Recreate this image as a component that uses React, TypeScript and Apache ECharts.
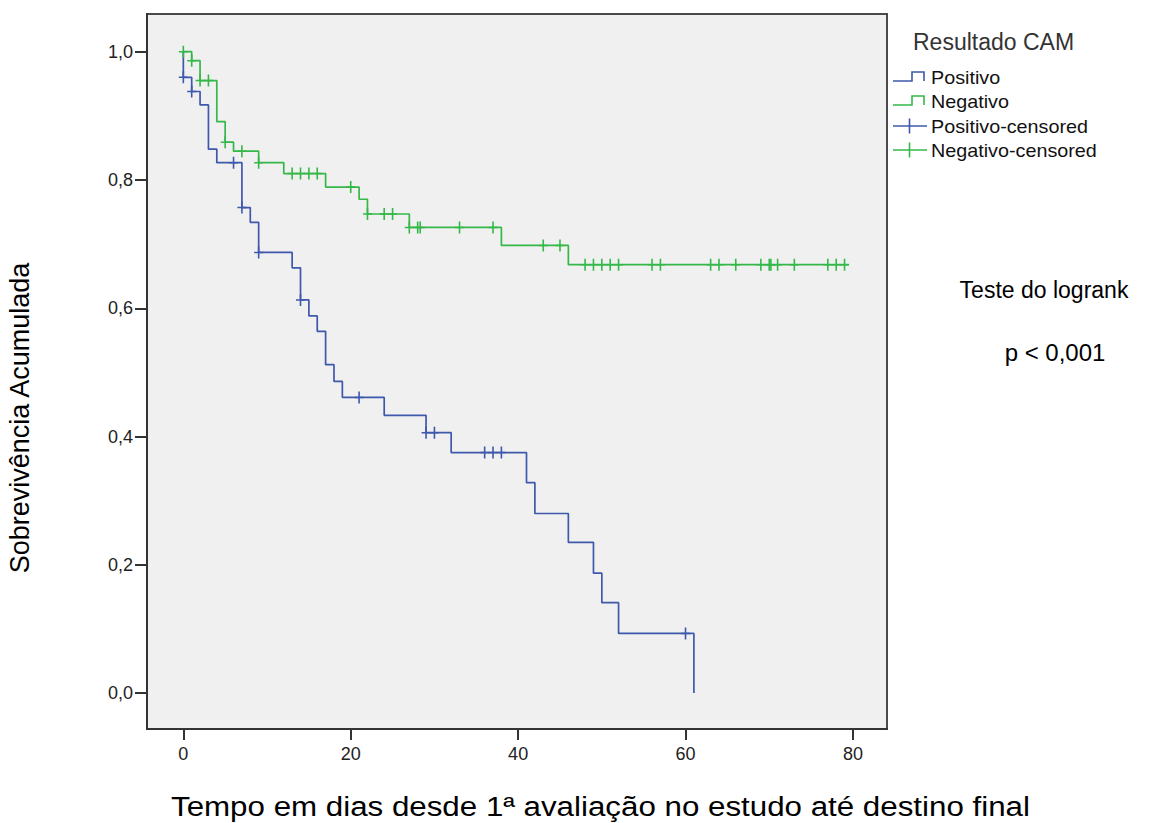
import React, { useEffect, useRef } from "react";
import * as echarts from "echarts";

// Kaplan-Meier curves (time in days, cumulative survival)
const positivoTimes = [0, 0, 1, 2, 3, 4, 7, 8, 9, 13, 14, 15, 16, 17, 18, 19, 24, 29, 32, 41, 42, 46, 49, 50, 52, 61];
const positivoSurv = [1.0, 0.96, 0.938, 0.917, 0.848, 0.827, 0.757, 0.734, 0.687, 0.663, 0.613, 0.588, 0.564, 0.512, 0.486, 0.461, 0.433, 0.406, 0.375, 0.328, 0.28, 0.235, 0.187, 0.141, 0.093, 0.0];
const positivoCensored = [0, 1, 6, 7, 9, 14, 21, 29, 30, 36, 37, 38, 60];

const negativoTimes = [0, 1, 2, 4, 5, 6, 9, 12, 17, 21, 22, 27, 38, 46, 79.5];
const negativoSurv = [1.0, 0.986, 0.955, 0.891, 0.859, 0.845, 0.827, 0.81, 0.789, 0.77, 0.747, 0.726, 0.698, 0.668, 0.668];
const negativoCensored = [0, 1, 2, 3, 5, 7, 9, 13, 14, 15, 16, 20, 22, 24, 25, 27, 28, 28.3, 33, 37, 43, 45, 48, 49, 50, 51, 52, 56, 57, 63, 64, 66, 69, 70, 70.2, 71, 73, 77, 78, 79];

const xTicks = [0, 20, 40, 60, 80];
const yTicks = [0, 0.2, 0.4, 0.6, 0.8, 1.0];

const legendTitle = "Resultado CAM";
const legendNames = ["Positivo", "Negativo", "Positivo-censored", "Negativo-censored"];
const xTitle = "Tempo em dias desde 1ª avaliação no estudo até destino final";
const yTitle = "Sobrevivência Acumulada";
const testTitle = "Teste do logrank";
const testP = "p < 0,001";

const BLUE = "#3E58AC";
const GREEN = "#34B848";
const FONT = "'Liberation Sans', Arial, sans-serif";
const CROSS = "path://M3.7,0H5.3V12H3.7ZM0,5.25H9V6.75H0Z";

function survAt(times: number[], surv: number[], t: number) {
  let v = surv[0];
  for (let i = 0; i < times.length; i++) {
    if (times[i] <= t) v = surv[i];
  }
  return v;
}

export default function App() {
  const ref = useRef<HTMLDivElement>(null);
  useEffect(() => {
    if (!ref.current) return;
    const chart = echarts.init(ref.current, undefined, { renderer: "svg" });
    const posLine = positivoTimes.map((t, i) => [t, positivoSurv[i]]);
    const negLine = negativoTimes.map((t, i) => [t, negativoSurv[i]]);
    const posCens = positivoCensored.map((t) => [t, survAt(positivoTimes, positivoSurv, t)]);
    const negCens = negativoCensored.map((t) => [t, survAt(negativoTimes, negativoSurv, t)]);

    const lx = 880; // legend anchor
    const legendText = (text: string, y: number) => ({
      type: "text",
      x: 931,
      y,
      scaleX: 1.04,
      style: { text, fontSize: 19, fontFamily: FONT, fill: "#111", textVerticalAlign: "middle" },
    });
    const stepIcon = (y: number, color: string) => ({
      type: "polyline",
      shape: { points: [[lx + 13, y + 4], [lx + 32, y + 4], [lx + 32, y - 5], [lx + 44, y - 5], [lx + 44, y + 4]] },
      style: { stroke: color, lineWidth: 1.6, fill: null },
    });
    const crossIcon = (y: number, color: string) => ({
      type: "group",
      children: [
        { type: "line", shape: { x1: lx + 13, y1: y, x2: lx + 47, y2: y }, style: { stroke: color, lineWidth: 1.5 } },
        { type: "line", shape: { x1: lx + 29.5, y1: y - 7.5, x2: lx + 29.5, y2: y + 7.5 }, style: { stroke: color, lineWidth: 1.6 } },
      ],
    });

    chart.setOption({
      animation: false,
      backgroundColor: "#ffffff",
      grid: {
        left: 147,
        top: 14,
        width: 740,
        height: 715,
        show: true,
        backgroundColor: "#F0F0F0",
        borderColor: "#4a4a4a",
        borderWidth: 2,
      },
      xAxis: {
        type: "value",
        min: -4.34,
        max: 84.07,
        axisLine: { show: true, onZero: false, lineStyle: { color: "#333", width: 2 } },
        axisTick: { show: true, length: 11, customValues: xTicks, lineStyle: { color: "#333", width: 2 } },
        axisLabel: { customValues: xTicks, margin: 16, fontSize: 18, color: "#222", fontFamily: FONT },
        splitLine: { show: false },
      },
      yAxis: {
        type: "value",
        min: -0.056,
        max: 1.0588,
        axisLine: { show: true, onZero: false, lineStyle: { color: "#333", width: 2 } },
        axisTick: { show: true, length: 12, customValues: yTicks, lineStyle: { color: "#333", width: 2 } },
        axisLabel: {
          customValues: yTicks,
          margin: 14,
          fontSize: 18,
          color: "#222",
          fontFamily: FONT,
          formatter: (v: number) => v.toFixed(1).replace(".", ","),
        },
        splitLine: { show: false },
      },
      series: [
        {
          name: legendNames[0],
          type: "line",
          step: "end",
          data: posLine,
          showSymbol: false,
          lineStyle: { color: BLUE, width: 1.7 },
          itemStyle: { color: BLUE },
          z: 2,
        },
        {
          name: legendNames[1],
          type: "line",
          step: "end",
          data: negLine,
          showSymbol: false,
          lineStyle: { color: GREEN, width: 1.7 },
          itemStyle: { color: GREEN },
          z: 3,
        },
        {
          name: legendNames[2],
          type: "scatter",
          data: posCens,
          symbol: CROSS,
          symbolSize: [9, 12],
          itemStyle: { color: BLUE, opacity: 1 },
          z: 4,
        },
        {
          name: legendNames[3],
          type: "scatter",
          data: negCens,
          symbol: CROSS,
          symbolSize: [9, 12],
          itemStyle: { color: GREEN, opacity: 1 },
          z: 5,
        },
      ],
      graphic: [
        {
          type: "text",
          x: 913,
          y: 42,
          style: { text: legendTitle, fontSize: 23, fontFamily: FONT, fill: "#333", textVerticalAlign: "middle" },
        },
        stepIcon(77, BLUE),
        legendText(legendNames[0], 77),
        stepIcon(101, GREEN),
        legendText(legendNames[1], 101),
        crossIcon(126, BLUE),
        legendText(legendNames[2], 126),
        crossIcon(150, GREEN),
        legendText(legendNames[3], 150),
        {
          type: "text",
          x: 1044,
          y: 290,
          style: { text: testTitle, fontSize: 23, fontFamily: FONT, fill: "#000", textAlign: "center", textVerticalAlign: "middle" },
        },
        {
          type: "text",
          x: 1055,
          y: 352,
          style: { text: testP, fontSize: 24, fontFamily: FONT, fill: "#000", textAlign: "center", textVerticalAlign: "middle" },
        },
        {
          type: "text",
          x: 171,
          y: 807,
          scaleX: 1.16,
          style: { text: xTitle, fontSize: 27, lineHeight: 27, fontFamily: FONT, fill: "#000", textAlign: "left", textVerticalAlign: "middle" },
        },
        {
          type: "text",
          x: 20,
          y: 418,
          rotation: Math.PI / 2,
          style: { text: yTitle, fontSize: 27, lineHeight: 27, fontFamily: FONT, fill: "#000", textAlign: "center", textVerticalAlign: "middle" },
        },
      ],
    });
    return () => chart.dispose();
  }, []);
  return <div ref={ref} style={{ position: "fixed", left: 0, top: 0, width: 1166, height: 823 }} />;
}
